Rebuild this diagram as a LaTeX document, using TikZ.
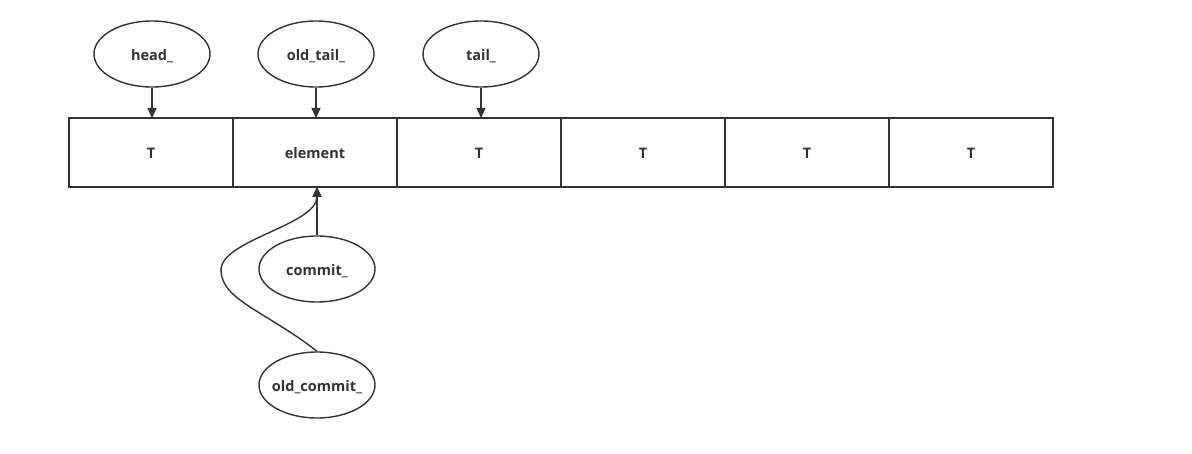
\documentclass[tikz,border=0pt]{standalone}
\usepackage{fontspec}
\setmainfont{Open Sans}
\usepackage{tikz}
\usetikzlibrary{shapes.geometric, arrows.meta, positioning}
\definecolor{lineGray}{RGB}{51, 51, 51}

\tikzset{
    cell/.style={draw=lineGray, line width=1.4pt, minimum width=164pt, minimum height=69pt,
        inner sep=0pt, outer sep=0pt, text height=13pt, text depth=0pt,
        font=\fontsize{14.5}{16}\selectfont\bfseries, text=lineGray},
    ptr/.style={draw=lineGray, ellipse, line width=1.4pt, minimum width=116pt, minimum height=66pt,
        inner sep=0pt, inner xsep=-12pt, text height=13pt, text depth=0pt,
        font=\fontsize{14.5}{16}\selectfont\bfseries, text=lineGray},
    link/.style={-{Triangle[length=10pt, width=9pt]}, line width=1.4pt, color=lineGray}
}

\begin{document}
\begin{tikzpicture}[x=1pt, y=-1pt]
    \useasboundingbox (0, 0) rectangle (1192, 454);

    % Ring buffer cells
    \node[cell] (c1) at (151, 152.5) {T};
    \node[cell, right=0pt of c1] (c2) {element};
    \node[cell, right=0pt of c2] (c3) {T};
    \node[cell, right=0pt of c3] (c4) {T};
    \node[cell, right=0pt of c4] (c5) {T};
    \node[cell, right=0pt of c5] (c6) {T};

    % Pointers above
    \node[ptr] (head) at (152, 54) {head\_};
    \node[ptr] (oldtail) at (316, 54) {old\_tail\_};
    \node[ptr] (tail) at (481, 54) {tail\_};

    % Pointers below
    \node[ptr] (commit) at (317, 269) {commit\_};
    \node[ptr] (oldcommit) at (317, 385) {old\_commit\_};

    % Arrows
    \draw[link] (head.south) -- (head.south |- c1.north);
    \draw[link] (oldtail.south) -- (oldtail.south |- c2.north);
    \draw[link] (tail.south) -- (tail.south |- c3.north);
    \draw[link] (commit.north) -- (commit.north |- c2.south);
    \draw[link] (oldcommit.north) .. controls (267, 312) and (221, 300) .. (221, 270)
        .. controls (221, 240) and (317, 225) .. (oldcommit.north |- c2.south);
\end{tikzpicture}
\end{document}
